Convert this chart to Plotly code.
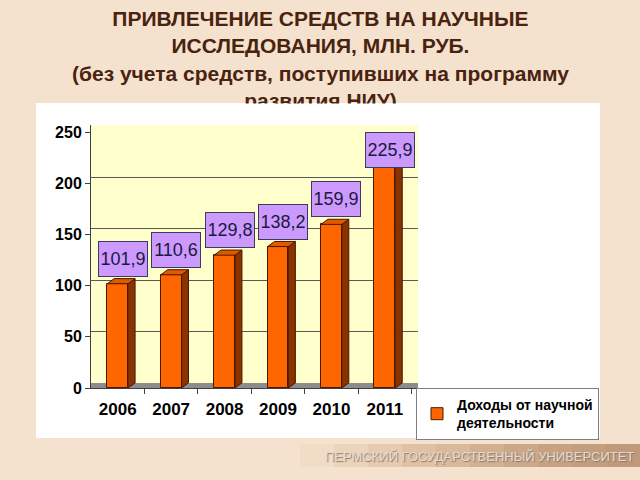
import plotly.graph_objects as go

years = ["2006", "2007", "2008", "2009", "2010", "2011"]
income = [101.9, 110.6, 129.8, 138.2, 159.9, 225.9]
y_ticks = [0, 50, 100, 150, 200, 250]
series_name = "Доходы от научной<br>деятельности"
title_lines = [
    "ПРИВЛЕЧЕНИЕ СРЕДСТВ НА НАУЧНЫЕ",
    "ИССЛЕДОВАНИЯ, МЛН. РУБ.",
    "(без учета средств, поступивших на программу",
    "развития НИУ)",
]
footer_text = "ПЕРМСКИЙ ГОСУДАРСТВЕННЫЙ УНИВЕРСИТЕТ"

FONT = "Liberation Sans, Arial, sans-serif"
L, R, T, B = 91, 222, 125, 92
PW, PH = 640 - L - R, 480 - T - B
W, DX, DY = 0.39, 0.13, 5  # bar width, 3d depth


def px(x):
    return (x - L) / PW


def py(y):
    return (480 - B - y) / PH


pos = list(range(len(years)))

# 3d side and top faces of the bars
side_x, side_y, top_x, top_y = [], [], [], []
for i, v in zip(pos, income):
    l, r = i - W / 2, i + W / 2
    side_x += [r, r + DX, r + DX, r, r, None]
    side_y += [0, DY, v + DY, v, 0, None]
    top_x += [l, l + DX, r + DX, r, l, None]
    top_y += [v, v + DY, v + DY, v, v, None]

fig = go.Figure()
fig.add_trace(go.Bar(x=pos, y=income, width=W, name=series_name,
                     marker=dict(color="#ff6600", line=dict(color="#4a1800", width=1)),
                     hoverinfo="skip"))
fig.add_trace(go.Scatter(x=side_x, y=side_y, mode="lines", fill="toself",
                         fillcolor="#8a3300", line=dict(color="#4a1800", width=1),
                         showlegend=False, hoverinfo="skip"))
fig.add_trace(go.Scatter(x=top_x, y=top_y, mode="lines", fill="toself",
                         fillcolor="#e05a00", line=dict(color="#4a1800", width=1),
                         showlegend=False, hoverinfo="skip"))
# invisible trace so the shifted grid axis gets drawn
fig.add_trace(go.Scatter(x=pos, y=income, yaxis="y2", mode="markers",
                         marker=dict(opacity=0), showlegend=False, hoverinfo="skip"))

annotations = []
# title, then a white strip that cuts the last line like the slide does
annotations.append(dict(text="<br>".join(title_lines), x=px(320), y=py(59),
                        xref="paper", yref="paper", xanchor="center", yanchor="middle",
                        showarrow=False,
                        font=dict(family=FONT, size=21, color="#4a230f", weight="bold")))
annotations.append(dict(text=" ", x=px(320), y=py(103), xref="paper", yref="paper",
                        xanchor="center", yanchor="top", showarrow=False,
                        width=300, height=10, bgcolor="white", borderpad=0,
                        font=dict(size=2)))
for i, v in zip(pos, income):
    annotations.append(dict(text=f"{v:.1f}".replace(".", ","), x=i, y=min(v + 42, 250),
                            xref="x", yref="y", xanchor="center", yanchor="top",
                            xshift=5, showarrow=False, width=44, height=30,
                            bgcolor="#cc99ff", bordercolor="#3a3a5a", borderwidth=1,
                            borderpad=2,
                            font=dict(family=FONT, size=18, color="#1a1a40")))
annotations.append(dict(text=footer_text, x=px(479), y=py(456), xref="paper", yref="paper",
                        xanchor="center", yanchor="middle", showarrow=False,
                        font=dict(family=FONT, size=13, color="#e2dbd4",
                                  shadow="1px 1px 1px #8a7866")))

shapes = [
    # white chart card
    dict(type="rect", xref="paper", yref="paper", x0=px(36), x1=px(600),
         y0=py(438), y1=py(103), fillcolor="white", line=dict(width=0), layer="below"),
    # yellow back wall
    dict(type="rect", xref="x domain", yref="y domain", x0=0, x1=1, y0=0, y1=1,
         fillcolor="#ffffcc", line=dict(width=0), layer="below"),
    # grey floor
    dict(type="rect", xref="x domain", yref="y", x0=0, x1=1, y0=0, y1=DY,
         fillcolor="#8c8c8c", line=dict(width=0), layer="below"),
]
# footer band fading in from the left
band_cols = ["#f1dcc5", "#ecd4bb", "#e6cbb0", "#dfc2a5", "#d8b99b", "#d1b092",
             "#cba88a", "#c6a283", "#c29d7e", "#bf997a"]
seg = (640 - 300) / len(band_cols)
for k, c in enumerate(band_cols):
    shapes.append(dict(type="rect", xref="paper", yref="paper",
                       x0=px(300 + k * seg), x1=px(300 + (k + 1) * seg + 1),
                       y0=py(467), y1=py(444), fillcolor=c, line=dict(width=0),
                       layer="below"))

fig.update_layout(
    width=640, height=480,
    margin=dict(l=L, r=R, t=T, b=B, pad=0),
    paper_bgcolor="#f4e2ce", plot_bgcolor="#ffffcc",
    barmode="overlay", bargap=0,
    font=dict(family=FONT),
    annotations=annotations, shapes=shapes,
    xaxis=dict(range=[-0.5, 5.62], tickmode="array", tickvals=pos, ticktext=years,
               ticks="", showgrid=False, zeroline=False, showline=True,
               linecolor="#404040", linewidth=1, ticklabelstandoff=6,
               tickfont=dict(family=FONT, size=17, color="black", weight="bold"),
               minor=dict(tickmode="array", tickvals=[p + 0.5 for p in pos],
                          ticks="outside", ticklen=5, tickcolor="#404040", showgrid=False)),
    yaxis=dict(range=[0, 257], tickmode="array", tickvals=y_ticks, showgrid=False,
               zeroline=False, showline=True, linecolor="#404040", linewidth=1,
               ticks="outside", ticklen=5, tickcolor="#404040", ticklabelstandoff=0,
               tickfont=dict(family=FONT, size=16, color="black", weight="bold")),
    yaxis2=dict(overlaying="y", range=[-5.5, 251.5], tickmode="array",
                tickvals=y_ticks[1:-1], showticklabels=False, ticks="",
                showgrid=True, gridcolor="#5a5a5a", gridwidth=1, zeroline=False,
                showline=False),
    legend=dict(x=px(416), y=py(388), xanchor="left", yanchor="top",
                bgcolor="white", bordercolor="#7f7f7f", borderwidth=1,
                itemwidth=30, tracegroupgap=0,
                font=dict(family=FONT, size=14, color="black", weight="bold")),
    showlegend=True,
)

fig.write_html("out.html", config={"displayModeBar": False},
               post_script="document.body.style.margin='0px';")
